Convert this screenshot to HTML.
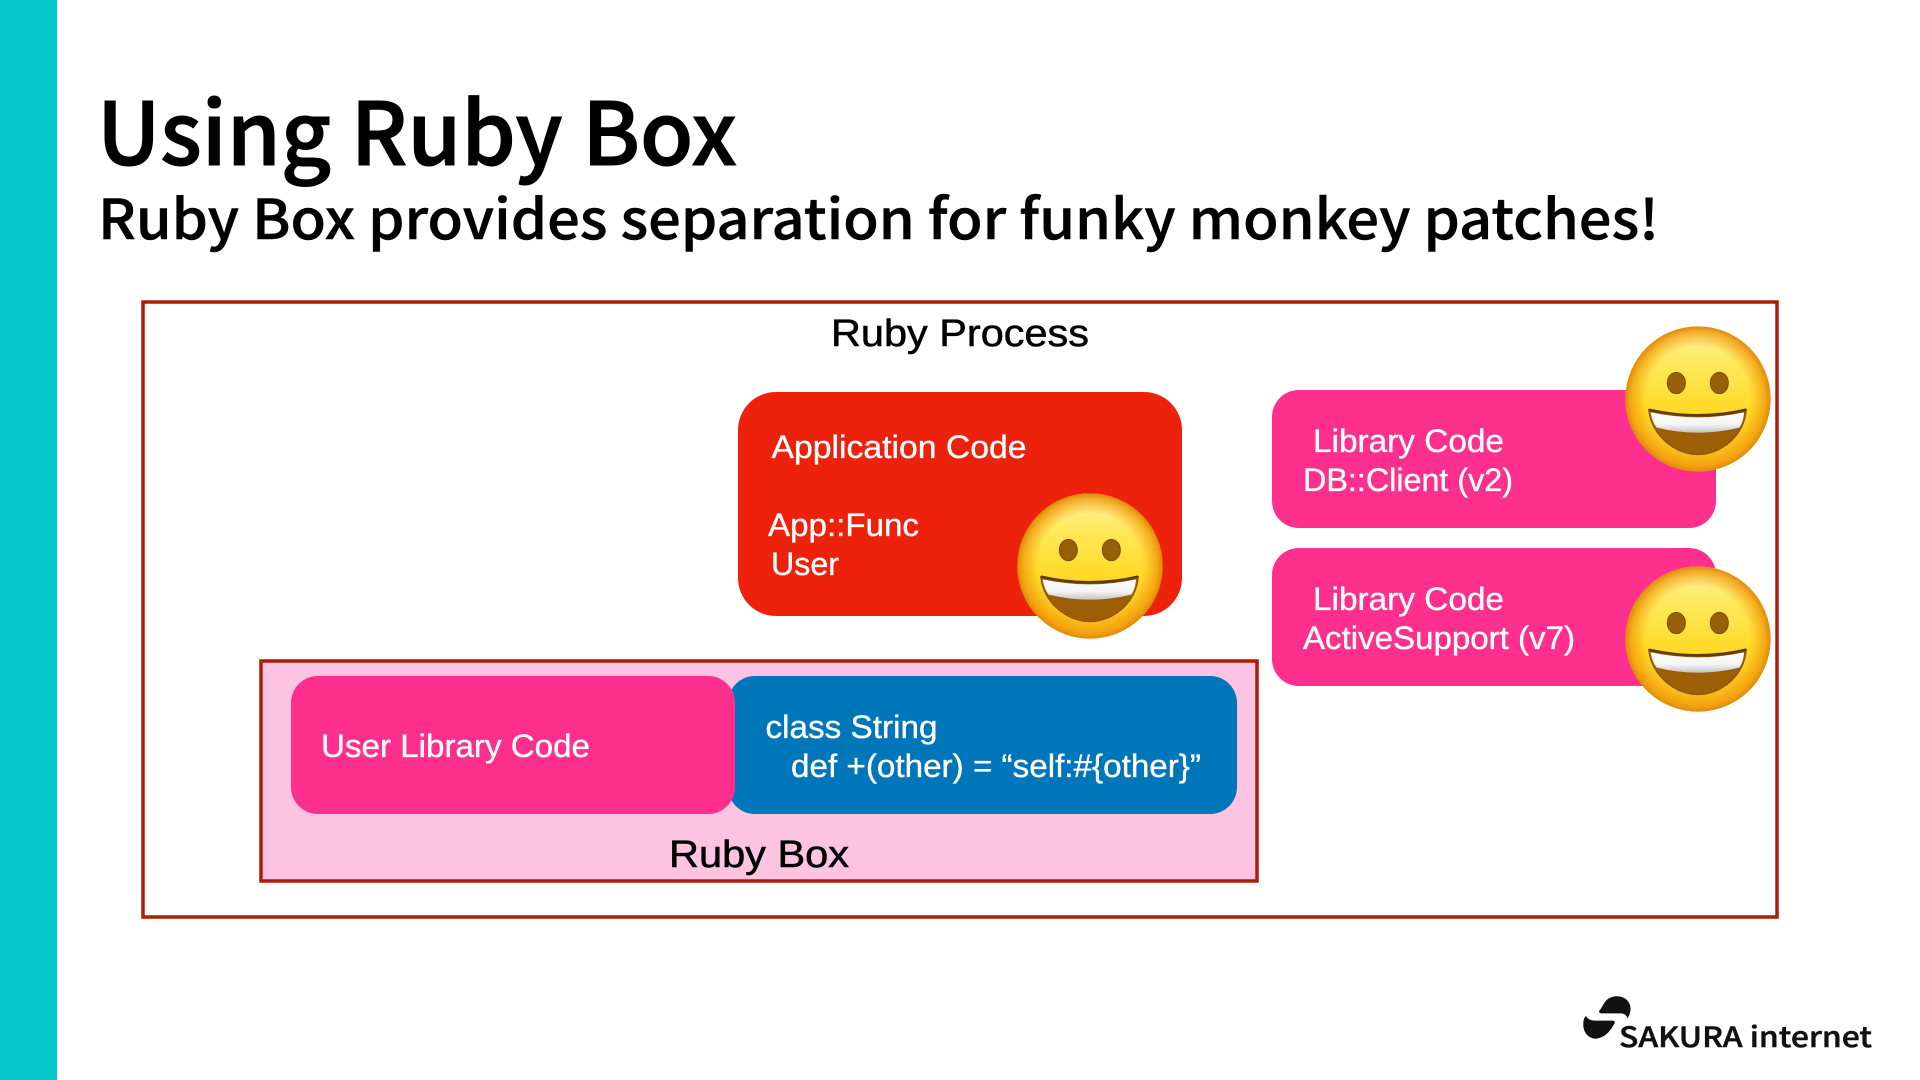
<!DOCTYPE html>
<html lang="en">
<head>
<meta charset="utf-8">
<title>Using Ruby Box</title>
<style>
html,body{margin:0;padding:0;background:#fff;width:1920px;height:1080px;overflow:hidden}
svg{display:block}
.h{font-family:"Noto Sans CJK JP","Liberation Sans",sans-serif;font-weight:500;fill:#000;stroke:#000}
.b{font-family:"Liberation Sans",sans-serif;fill:#fff;font-size:32.5px;stroke:#fff;stroke-width:.35px}
.k{font-family:"Liberation Sans",sans-serif;fill:#000;font-size:38px;stroke:#000;stroke-width:.55px}
</style>
</head>
<body>
<svg width="1920" height="1080" viewBox="0 0 1920 1080" xmlns="http://www.w3.org/2000/svg">
<defs>
<linearGradient id="face" x1="0" y1="0" x2="0" y2="1">
<stop offset="0" stop-color="#fff3a8"/>
<stop offset=".25" stop-color="#ffe95c"/>
<stop offset=".55" stop-color="#ffdb2a"/>
<stop offset="1" stop-color="#fbb91c"/>
</linearGradient>
<radialGradient id="rim" cx="50%" cy="50%" r="50%">
<stop offset="0" stop-color="#f29a0a" stop-opacity="0"/>
<stop offset=".72" stop-color="#f29a0a" stop-opacity="0"/>
<stop offset=".92" stop-color="#f09a0a" stop-opacity=".75"/>
<stop offset="1" stop-color="#dd8a08" stop-opacity="1"/>
</radialGradient>
<linearGradient id="teeth" x1="0" y1="0" x2="0" y2="1">
<stop offset="0" stop-color="#ffffff"/>
<stop offset=".6" stop-color="#f4f4f4"/>
<stop offset="1" stop-color="#c4c4c4"/>
</linearGradient>
<g id="smile" transform="scale(.3333)">
<circle r="218" fill="url(#face)"/>
<circle r="218" fill="url(#rim)"/>
<ellipse cx="-65" cy="-48" rx="27" ry="32" fill="#96600a" stroke="#7b4c05" stroke-width="3"/>
<ellipse cx="64" cy="-48" rx="27" ry="32" fill="#96600a" stroke="#7b4c05" stroke-width="3"/>
<path d="M-148 32Q0 66 145 32C140 110 70 167 0 167C-70 167-140 110-148 32Z" fill="#9c5f07" stroke="#8a5205" stroke-width="3"/>
<path d="M-142 40Q0 70 138 40C137 60 131 76 124 86Q0 116-124 86C-132 76-139 60-142 40Z" fill="url(#teeth)"/>
<path d="M-148 32Q0 66 145 32" fill="none" stroke="#5f3b05" stroke-width="8"/>
</g>
</defs>

<rect x="0" y="0" width="57" height="1080" fill="#05c8c8"/>

<text class="h" x="97" y="165" font-size="87" stroke-width="1.1" textLength="640" lengthAdjust="spacingAndGlyphs">Using Ruby Box</text>
<text class="h" x="98" y="239" font-size="55" stroke-width=".5" textLength="1561" lengthAdjust="spacingAndGlyphs">Ruby Box provides separation for funky monkey patches!</text>

<rect x="143" y="302" width="1634" height="615" fill="#fff" stroke="#ab1c0a" stroke-width="3.5"/>
<text class="k" x="831" y="346" textLength="258" lengthAdjust="spacingAndGlyphs">Ruby Process</text>

<rect x="738" y="392" width="444" height="224" rx="38" fill="#ee220c"/>
<text class="b" x="771.5" y="458" textLength="255" lengthAdjust="spacingAndGlyphs">Application Code</text>
<text class="b" x="768" y="536" textLength="151" lengthAdjust="spacingAndGlyphs">App::Func</text>
<text class="b" x="771" y="575" textLength="68" lengthAdjust="spacingAndGlyphs">User</text>

<rect x="261" y="661" width="996" height="220" fill="#fdc3e2" stroke="#ab1c0a" stroke-width="3.5"/>
<rect x="728" y="676" width="509" height="138" rx="27" fill="#0076ba"/>
<rect x="291" y="676" width="444" height="138" rx="27" fill="#ff2f8e"/>
<text class="b" x="321" y="757" textLength="269" lengthAdjust="spacingAndGlyphs">User Library Code</text>
<text class="b" x="765.5" y="738" textLength="172" lengthAdjust="spacingAndGlyphs">class String</text>
<text class="b" x="791" y="777" textLength="410" lengthAdjust="spacingAndGlyphs">def +(other) = “self:#{other}”</text>
<text class="k" x="669" y="867" textLength="180" lengthAdjust="spacingAndGlyphs">Ruby Box</text>

<rect x="1272" y="390" width="444" height="138" rx="27" fill="#ff2f8e"/>
<text class="b" x="1313" y="452" textLength="191" lengthAdjust="spacingAndGlyphs">Library Code</text>
<text class="b" x="1303" y="491" textLength="210" lengthAdjust="spacingAndGlyphs">DB::Client (v2)</text>

<rect x="1272" y="548" width="444" height="138" rx="27" fill="#ff2f8e"/>
<text class="b" x="1313" y="610" textLength="191" lengthAdjust="spacingAndGlyphs">Library Code</text>
<text class="b" x="1303" y="649" textLength="272" lengthAdjust="spacingAndGlyphs">ActiveSupport (v7)</text>

<use href="#smile" x="1090" y="566"/>
<use href="#smile" x="1698" y="399"/>
<use href="#smile" x="1698" y="639"/>

<g transform="translate(1560 980) scale(.3333)" fill="#111">
<path d="M118 92C125 85 130 70 140 60C160 42 200 45 210 75C214 90 210 105 202 115C200 105 192 100 180 100L125 100C118 100 116 96 118 92Z"/>
<path d="M78 108C85 120 95 122 110 122L158 122C165 122 166 128 162 133C152 150 140 170 110 176C85 178 68 155 70 130C70 120 73 112 78 108Z"/>
</g>
<text class="h" x="1619" y="1047" font-size="28" stroke-width=".5" textLength="253" lengthAdjust="spacingAndGlyphs" style="fill:#111;stroke:#111">SAKURA internet</text>
</svg>
</body>
</html>
